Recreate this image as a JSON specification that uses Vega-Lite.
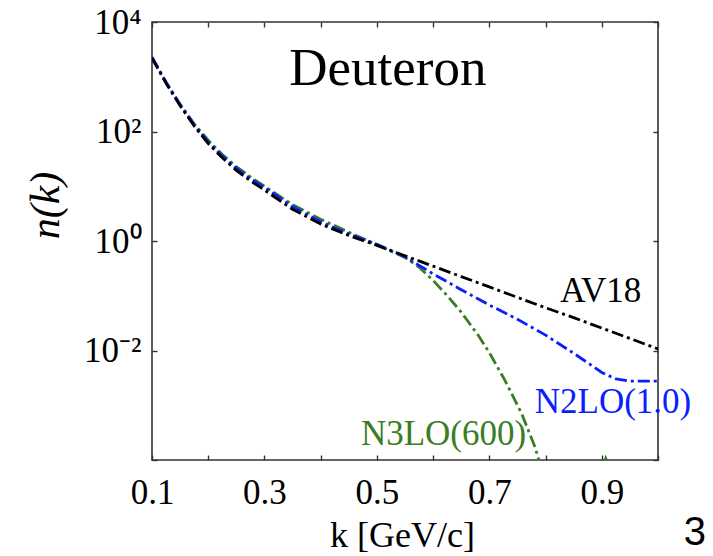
{
  "$schema": "https://vega.github.io/schema/vega-lite/v6.json",
  "width": 506,
  "height": 438,
  "autosize": "none",
  "padding": {"left": 152, "top": 22, "right": 55, "bottom": 96},
  "background": "white",
  "config": {
    "font": "Liberation Serif",
    "view": {"stroke": "#333333", "strokeWidth": 1.6},
    "axis": {
      "grid": false,
      "domain": false,
      "tickColor": "#333333",
      "tickWidth": 1.4,
      "tickSize": -5,
      "labelFont": "Liberation Serif",
      "labelFontSize": 35,
      "labelColor": "#000000",
      "labelFlush": false,
      "labelOverlap": false,
      "labelBound": false,
      "titleFont": "Liberation Serif",
      "titleFontWeight": "normal",
      "titleColor": "#000000"
    }
  },
  "resolve": {"axis": {"x": "independent", "y": "independent"}},
  "layer": [
    {
      "data": {
        "values": [
          {"k": 0.10, "n": 2239, "model": "N3LO(600)"},
          {"k": 0.125, "n": 794, "model": "N3LO(600)"},
          {"k": 0.15, "n": 316, "model": "N3LO(600)"},
          {"k": 0.175, "n": 138, "model": "N3LO(600)"},
          {"k": 0.20, "n": 69.2, "model": "N3LO(600)"},
          {"k": 0.225, "n": 38.0, "model": "N3LO(600)"},
          {"k": 0.25, "n": 22.9, "model": "N3LO(600)"},
          {"k": 0.275, "n": 14.8, "model": "N3LO(600)"},
          {"k": 0.30, "n": 10.0, "model": "N3LO(600)"},
          {"k": 0.35, "n": 4.6, "model": "N3LO(600)"},
          {"k": 0.40, "n": 2.5, "model": "N3LO(600)"},
          {"k": 0.45, "n": 1.45, "model": "N3LO(600)"},
          {"k": 0.50, "n": 0.851, "model": "N3LO(600)"},
          {"k": 0.55, "n": 0.50, "model": "N3LO(600)"},
          {"k": 0.574, "n": 0.339, "model": "N3LO(600)"},
          {"k": 0.60, "n": 0.191, "model": "N3LO(600)"},
          {"k": 0.627, "n": 0.0955, "model": "N3LO(600)"},
          {"k": 0.65, "n": 0.0501, "model": "N3LO(600)"},
          {"k": 0.68, "n": 0.0191, "model": "N3LO(600)"},
          {"k": 0.70, "n": 0.00912, "model": "N3LO(600)"},
          {"k": 0.728, "n": 0.00282, "model": "N3LO(600)"},
          {"k": 0.757, "n": 0.000724, "model": "N3LO(600)"},
          {"k": 0.781, "n": 0.000174, "model": "N3LO(600)"},
          {"k": 0.80, "n": 0.0000398, "model": "N3LO(600)"},
          {"k": 0.85, "n": 0.000001, "model": "N3LO(600)"},
          {"k": 0.90, "n": 0.0000708, "model": "N3LO(600)"},
          {"k": 0.907, "n": 0.000107, "model": "N3LO(600)"},
          {"k": 0.915, "n": 0.0000708, "model": "N3LO(600)"},
          {"k": 0.93, "n": 0.00001, "model": "N3LO(600)"},

          {"k": 0.10, "n": 2291, "model": "N2LO(1.0)"},
          {"k": 0.125, "n": 794, "model": "N2LO(1.0)"},
          {"k": 0.15, "n": 309, "model": "N2LO(1.0)"},
          {"k": 0.175, "n": 132, "model": "N2LO(1.0)"},
          {"k": 0.20, "n": 64.6, "model": "N2LO(1.0)"},
          {"k": 0.225, "n": 35.5, "model": "N2LO(1.0)"},
          {"k": 0.25, "n": 21.4, "model": "N2LO(1.0)"},
          {"k": 0.275, "n": 13.8, "model": "N2LO(1.0)"},
          {"k": 0.30, "n": 9.55, "model": "N2LO(1.0)"},
          {"k": 0.35, "n": 4.27, "model": "N2LO(1.0)"},
          {"k": 0.40, "n": 2.24, "model": "N2LO(1.0)"},
          {"k": 0.45, "n": 1.35, "model": "N2LO(1.0)"},
          {"k": 0.50, "n": 0.871, "model": "N2LO(1.0)"},
          {"k": 0.55, "n": 0.513, "model": "N2LO(1.0)"},
          {"k": 0.60, "n": 0.251, "model": "N2LO(1.0)"},
          {"k": 0.65, "n": 0.129, "model": "N2LO(1.0)"},
          {"k": 0.70, "n": 0.0676, "model": "N2LO(1.0)"},
          {"k": 0.75, "n": 0.0372, "model": "N2LO(1.0)"},
          {"k": 0.80, "n": 0.0191, "model": "N2LO(1.0)"},
          {"k": 0.85, "n": 0.00891, "model": "N2LO(1.0)"},
          {"k": 0.90, "n": 0.00398, "model": "N2LO(1.0)"},
          {"k": 0.925, "n": 0.00302, "model": "N2LO(1.0)"},
          {"k": 0.95, "n": 0.00275, "model": "N2LO(1.0)"},
          {"k": 1.00, "n": 0.00275, "model": "N2LO(1.0)"},

          {"k": 0.10, "n": 2188, "model": "AV18"},
          {"k": 0.125, "n": 759, "model": "AV18"},
          {"k": 0.15, "n": 295, "model": "AV18"},
          {"k": 0.175, "n": 126, "model": "AV18"},
          {"k": 0.20, "n": 60.3, "model": "AV18"},
          {"k": 0.225, "n": 33.1, "model": "AV18"},
          {"k": 0.25, "n": 19.5, "model": "AV18"},
          {"k": 0.275, "n": 12.6, "model": "AV18"},
          {"k": 0.30, "n": 8.51, "model": "AV18"},
          {"k": 0.35, "n": 3.8, "model": "AV18"},
          {"k": 0.40, "n": 2.04, "model": "AV18"},
          {"k": 0.45, "n": 1.26, "model": "AV18"},
          {"k": 0.50, "n": 0.832, "model": "AV18"},
          {"k": 0.55, "n": 0.537, "model": "AV18"},
          {"k": 0.60, "n": 0.347, "model": "AV18"},
          {"k": 0.65, "n": 0.224, "model": "AV18"},
          {"k": 0.70, "n": 0.145, "model": "AV18"},
          {"k": 0.75, "n": 0.0933, "model": "AV18"},
          {"k": 0.80, "n": 0.0603, "model": "AV18"},
          {"k": 0.85, "n": 0.0398, "model": "AV18"},
          {"k": 0.90, "n": 0.0257, "model": "AV18"},
          {"k": 0.95, "n": 0.0166, "model": "AV18"},
          {"k": 1.00, "n": 0.0107, "model": "AV18"}
        ]
      },
      "mark": {"type": "line", "clip": true, "strokeWidth": 2.8, "strokeDash": [12, 4, 3, 4]},
      "encoding": {
        "x": {
          "field": "k", "type": "quantitative",
          "scale": {"domain": [0.1, 1.0], "nice": false, "zero": false},
          "axis": {
            "orient": "bottom",
            "values": [0.1, 0.2, 0.3, 0.4, 0.5, 0.6, 0.7, 0.8, 0.9, 1.0],
            "labelExpr": "round(datum.value * 10) % 2 == 1 ? format(datum.value, '.1f') : ''",
            "labelPadding": 20,
            "labelBaseline": "top",
            "title": "k [GeV/c]",
            "titleFontSize": 36,
            "titleX": 250,
            "titleY": 86,
            "titleBaseline": "alphabetic"
          }
        },
        "y": {
          "field": "n", "type": "quantitative",
          "scale": {"type": "log", "domain": [0.0001, 10000], "nice": false},
          "axis": {
            "orient": "left",
            "values": [0.0001, 0.01, 1, 100, 10000],
            "labelExpr": "datum.value >= 5000 ? '10⁴' : datum.value >= 50 ? '10²' : datum.value >= 0.5 ? '10⁰' : datum.value >= 0.005 ? '10⁻²' : ''",
            "labelPadding": 16,
            "title": "n(k)",
            "titleFontSize": 42,
            "titleFontStyle": "italic",
            "titleAngle": -90,
            "titleX": -107,
            "titleY": 183,
            "titleBaseline": "middle",
            "titleAlign": "center"
          }
        },
        "color": {
          "field": "model", "type": "nominal",
          "scale": {"domain": ["N3LO(600)", "N2LO(1.0)", "AV18"], "range": ["#3b7d23", "#0a1eff", "#000000"]},
          "legend": null
        }
      }
    },
    {
      "data": {"values": [{"k": 0.5195, "n": 706, "label": "Deuteron"}]},
      "mark": {"type": "text", "font": "Liberation Serif", "fontSize": 53, "align": "center", "baseline": "alphabetic", "color": "#000000"},
      "encoding": {
        "x": {"field": "k", "type": "quantitative", "axis": {"orient": "top", "values": [0.1, 0.2, 0.3, 0.4, 0.5, 0.6, 0.7, 0.8, 0.9, 1.0], "labels": false, "title": null}},
        "y": {"field": "n", "type": "quantitative", "axis": {"orient": "right", "values": [0.0001, 0.01, 1, 100, 10000], "labels": false, "title": null}},
        "text": {"field": "label"}
      }
    },
    {
      "data": {"values": [{"k": 0.898, "n": 0.0769, "label": "AV18"}]},
      "mark": {"type": "text", "font": "Liberation Serif", "fontSize": 35, "align": "center", "baseline": "alphabetic", "color": "#000000"},
      "encoding": {
        "x": {"field": "k", "type": "quantitative", "axis": null},
        "y": {"field": "n", "type": "quantitative", "axis": null},
        "text": {"field": "label"}
      }
    },
    {
      "data": {"values": [{"k": 0.920, "n": 0.00072, "label": "N2LO(1.0)"}]},
      "mark": {"type": "text", "font": "Liberation Serif", "fontSize": 35, "align": "center", "baseline": "alphabetic", "color": "#0a1eff"},
      "encoding": {
        "x": {"field": "k", "type": "quantitative", "axis": null},
        "y": {"field": "n", "type": "quantitative", "axis": null},
        "text": {"field": "label"}
      }
    },
    {
      "data": {"values": [{"k": 0.6186, "n": 0.000188, "label": "N3LO(600)"}]},
      "mark": {"type": "text", "font": "Liberation Serif", "fontSize": 35, "align": "center", "baseline": "alphabetic", "color": "#3b7d23"},
      "encoding": {
        "x": {"field": "k", "type": "quantitative", "axis": null},
        "y": {"field": "n", "type": "quantitative", "axis": null},
        "text": {"field": "label"}
      }
    },
    {
      "data": {"values": [{"k": 1.046, "n": 0.0000028, "label": "3"}]},
      "mark": {"type": "text", "font": "Liberation Sans", "fontSize": 40, "align": "left", "baseline": "alphabetic", "color": "#000000"},
      "encoding": {
        "x": {"field": "k", "type": "quantitative", "axis": null},
        "y": {"field": "n", "type": "quantitative", "axis": null},
        "text": {"field": "label"}
      }
    }
  ]
}
